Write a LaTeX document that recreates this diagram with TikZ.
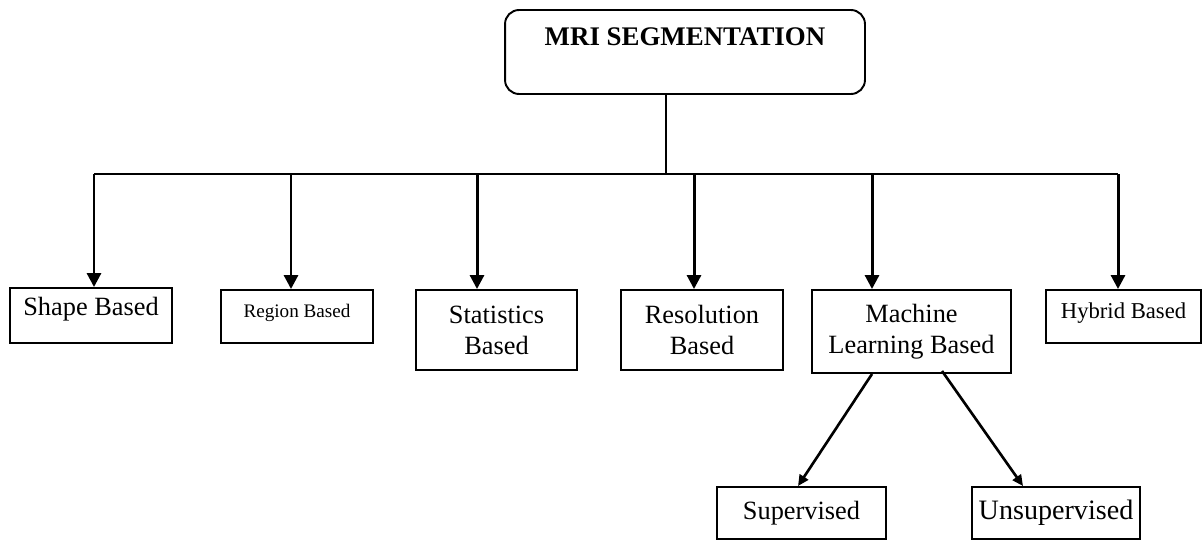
\documentclass[tikz,border=0pt]{standalone}
\usepackage{fontspec}
\setmainfont{Liberation Serif}
\usetikzlibrary{arrows.meta}

\begin{document}
\begin{tikzpicture}[
    x=0.02cm, y=-0.02cm,
    root/.style={rectangle, rounded corners=8pt, draw, line width=1.1pt, inner sep=0pt,
                 minimum width=7.2cm, text height=0.7cm, text depth=0.98cm, font=\fontsize{15.3}{18}\selectfont\bfseries},
    method/.style={rectangle, draw, line width=1.1pt, inner sep=0pt, align=center, font=\fontsize{15}{17.6}\selectfont},
    arr/.style={-{Triangle[length=0.28cm, width=0.28cm]}, line width=1.7pt},
    subarr/.style={-{Triangle[length=0.22cm, width=0.2cm]}, line width=1.5pt},
    bus/.style={line width=0.85pt},
]
\useasboundingbox (0,0) rectangle (1202,541);

\node[root] (mri) at (685,52) {MRI SEGMENTATION};

\node[method, minimum width=3.24cm, text height=0.54cm, text depth=0.56cm] (shape) at (91,315.5) {Shape Based};
\node[method, minimum width=3.04cm, text height=0.54cm, text depth=0.52cm, font=\fontsize{10.9}{13}\selectfont] (region) at (297,316.5) {Region Based};
\node[method, minimum width=3.22cm, minimum height=1.6cm] (stats) at (496.5,330) {Statistics\\Based};
\node[method, minimum width=3.24cm, minimum height=1.6cm] (res) at (702,330) {Resolution\\Based};
\node[method, minimum width=3.98cm, minimum height=1.66cm] (ml) at (911.5,331.5) {Machine\\Learning Based};
\node[method, minimum width=3.1cm, text height=0.56cm, text depth=0.5cm, font=\fontsize{12.9}{15}\selectfont] (hybrid) at (1123.5,316.5) {Hybrid Based};

\node[method, minimum width=3.38cm, minimum height=1.04cm] (sup) at (801.5,513) {Supervised};
\node[method, minimum width=3.36cm, minimum height=1.04cm, font=\fontsize{16}{18}\selectfont] (unsup) at (1056,513) {Unsupervised};

% trunk and bus
\coordinate (junction) at (666,174);
\draw[bus] (mri.south -| junction) -- (junction);
\foreach \n/\x in {shape/94, region/291, stats/477, res/694, ml/872, hybrid/1118}
    \coordinate (b\n) at (\x,174);
\draw[bus] (bshape) -- (bhybrid);

\foreach \n in {shape, region, stats, res, ml, hybrid}
    \draw[arr] (b\n) -- (b\n |- \n.north);

% learning types
\draw[subarr] ([xshift=-0.79cm]ml.south) -- ([xshift=-0.07cm]sup.north);
\draw[subarr] ([xshift=0.61cm, yshift=0.06cm]ml.south) -- ([xshift=-0.66cm]unsup.north);
\end{tikzpicture}
\end{document}
